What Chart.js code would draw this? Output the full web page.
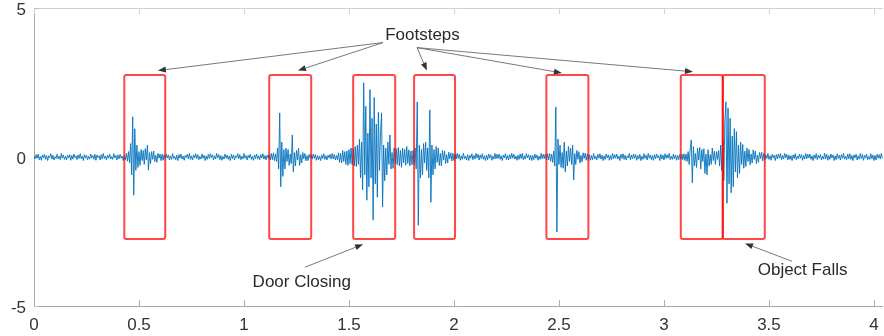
<!DOCTYPE html>
<html>
<head>
<meta charset="utf-8">
<script src="https://cdn.jsdelivr.net/npm/chart.js@4"></script>
<style>
html,body{margin:0;padding:0;background:#fff;}
#wrap{width:884px;height:336px;position:relative;}
</style>
</head>
<body>
<div id="wrap"><canvas id="c"></canvas></div>
<script>
// ---- DATA ----
const dt = 0.005;                 // sample spacing (s)
const valueScale = 0.01;          // values below are in hundredths
const segStarts = [0, 0.43, 0.625, 1.12, 1.325, 1.52, 1.725, 1.81, 2.005, 2.44, 2.645, 3.08, 3.28, 3.48];

const baseA = [3,-6,8,-4,10,-9,2,-11,7,-3,9,-8,5,-12,4,-2,11,-7,6,-10,
1,-5,9,-6,3,-9,12,-4,7,-8,2,-10,6,-3,8,-11,5,-7,10,-2,
4,-9,7,-5,11,-6,3,-12,8,-4,6,-9,2,-7,10,-3,5,-8,9,-11,
7,-2,4,-10,8,-6,12,-5,3,-9,6,-4,10,-7,2,-8,11,-3,5,-10,
7,-6,9,-4,3,-12];
const step1 = [5,-9,12,-14,18,-20,45,-60,135,-128,95,-45,40,-35,18,-28,25,-12,22,-25,
28,-10,40,-44,15,-22,18,-8,20,-15,6,-18,12,-4,10,-12,9,-11,8];
const baseB = [-6,9,-3,7,-10,4,-8,11,-5,2,
-9,6,-12,8,-4,10,-7,3,-11,5,
-2,9,-6,12,-8,4,-10,7,-3,11,
-5,8,-9,2,-7,10,-4,6,-12,3,
-8,9,-5,11,-2,7,-10,4,-6,12,
-3,8,-9,5,-11,2,-7,10,-4,6,
-8,3,-12,9,-5,7,-10,4,-2,11,
-6,8,-9,3,-7,12,-4,5,-10,6,
-3,9,-8,2,-11,7,-5,10,-6,4,
-9,8,-3,11,-7,5,-10,6,-4];
const step2 = [8,-10,12,-9,14,-12,10,-15,30,-40,148,-100,50,-65,25,-40,30,-15,25,-28,
10,-22,74,-50,15,-30,22,-10,30,-28,8,-20,15,-6,12,-13,5,-12,9,-4,8];
const baseC = [-7,10,-4,8,-11,5,-9,3,-12,7,
-5,11,-8,4,-10,6,-3,9,-7,12,
-6,8,-10,5,-9,
14,-18,12,-20,22,-15,18,-25,20,-28,25,-22,30,-26];
const door = [28,-30,35,-32,40,-25,60,-70,50,-110,249,-60,170,-145,80,-100,226,-70,130,-212,
200,-90,110,-135,150,-45,80,148,-168,40,-80,30,-60,50,-25,74,-40,15,-38,30,-22];
const baseD = [28,-25,32,-30,22,-35,30,-20,26,-28,35,-22,24,-30,20,-26,22];
const step3 = [-25,30,-40,185,-229,40,-70,25,-60,45,-20,50,-45,30,-70,158,-152,40,-60,25,
-40,35,-18,30,-28,12,-30,22,-10,20,-22,8,-20,16,-6,14,-13,12,-12];
const baseE = [10,-7,12,-5,9,-11,4,-8,13,-6,
3,-10,8,-12,6,-4,11,-9,5,-7,
12,-3,9,-10,7,-5,11,-8,4,-12,
6,-9,10,-4,8,-11,3,-7,12,-6,
9,-5,10,-8,4,-12,7,-3,11,-9,
5,-10,8,-6,12,-4,9,-7,3,-11,
6,-8,10,-5,12,-9,4,-7,11,-3,
8,-10,6,-12,5,-9,10,-4,7,-11,
3,-8,12,-6,9,-5,10];
const step4 = [-9,11,-10,12,-14,10,-18,20,-30,168,-252,60,-25,40,-35,15,-38,50,-50,20,
-30,35,-15,30,-25,40,-77,12,-25,22,-8,18,-20,6,-16,14,-5,13,-11,10,-12];
const baseF = [8,-11,5,-9,12,-6,3,-10,9,-4,
11,-7,6,-12,4,-8,10,-3,7,-11,
5,-9,12,-6,8,-4,10,-7,3,-12,
9,-5,11,-8,6,-10,4,-3,12,-9,
7,-6,10,-4,8,-11,5,-7,9,-12,
3,-8,11,-5,6,-10,12,-4,7,-9,
5,-11,8,-6,10,-3,4,-12,9,-7,
6,-10,11,-5,8,-4,12,-9,3,-8,
10,-6,7,-11,5,-9,8];
const step5 = [-8,10,-9,11,-12,10,-15,18,-25,30,57,-87,35,-30,12,-35,30,-10,32,-40,
25,-15,28,-55,10,-60,25,-30,8,-25,30,-12,20,-25,18,-8,22,-30,40,-45];
const fall = [60,-80,120,185,-155,165,-90,130,-120,70,-100,95,-50,85,-70,40,-55,50,-25,42,
-38,20,-32,30,-15,25,-26,10,-20,24,-8,20,-22,6,-18,15,-5,16,-13,12];
const baseG = [-10,7,-5,12,-8,4,-11,9,-3,6,
-12,8,-6,10,-4,11,-9,5,-7,12,
-3,9,-10,6,-8,4,-12,7,-5,11,
-9,3,-6,10,-4,8,-11,5,-7,12,
-6,9,-3,10,-8,4,-12,7,-5,11,
-9,6,-4,8,-10,3,-7,12,-6,9,
-11,5,-8,10,-3,7,-12,4,-9,11,
-5,6,-10,8,-4,12,-7,3,-9,10,
-6,11,-8,5,-12,7,-3,9,-10,4,
-7,12,-5,8,-11,6,-4,10,-9,3,
-8,11,-6,7,-12,5,-10,9,-4,8,
-7,12,-5];
const segments = [baseA, step1, baseB, step2, baseC, door, baseD, step3, baseE, step4, baseF, step5, fall, baseG];

const xTickLabels = ['0','0.5','1','1.5','2','2.5','3','3.5','4'];
const yTickLabels = ['-5','0','5'];

// event boxes (time ranges) and their vertical extent
const boxStart = [0.43, 1.12, 1.52, 1.81, 2.44, 3.08, 3.28];
const boxEnd   = [0.625, 1.32, 1.72, 2.005, 2.64, 3.28, 3.48];
const boxLow = -2.75, boxHigh = 2.75;

// annotations (data coordinates)
const labelText = ['Footsteps', 'Door Closing', 'Object Falls'];
const labelX = [1.85, 1.275, 3.66];
const labelY = [4.07, -4.21, -3.8];
// arrows: from (ax0,ay0) to head at (ax1,ay1)
const arrowX0 = [1.662, 1.662, 1.824, 1.824, 1.824, 1.29, 3.61];
const arrowY0 = [3.84, 3.84, 3.67, 3.67, 3.67, -3.70, -3.50];
const arrowX1 = [0.590, 1.257, 1.871, 2.514, 3.138, 1.567, 3.386];
const arrowY1 = [2.90, 2.90, 2.90, 2.82, 2.86, -2.93, -2.90];

// ---- BUILD POINTS ----
const points = [];
segments.forEach((seg, k) => {
  const t0 = segStarts[k];
  const tNext = k < segStarts.length - 1 ? segStarts[k + 1] : Infinity;
  seg.forEach((v, j) => {
    const t = t0 + j * dt;
    if (t < tNext - 1e-9) points.push({x: t, y: v * valueScale});
  });
});

const FONT = '"Liberation Sans", Arial, Helvetica, sans-serif';

const framePlugin = {
  id: 'frame',
  beforeDatasetsDraw(chart) {
    const {ctx, chartArea: a, scales: {x, y}} = chart;
    ctx.save();
    ctx.lineWidth = 1;
    ctx.strokeStyle = '#d2d2d2';
    ctx.beginPath(); ctx.moveTo(a.left, a.top + 0.5); ctx.lineTo(a.right, a.top + 0.5); ctx.stroke();
    ctx.strokeStyle = '#a8a8a8';
    ctx.beginPath();
    ctx.moveTo(a.left + 0.5, a.top); ctx.lineTo(a.left + 0.5, a.bottom + 0.5);
    ctx.lineTo(a.right, a.bottom + 0.5);
    ctx.stroke();
    x.ticks.forEach(t => {
      const px = Math.round(x.getPixelForValue(t.value)) + 0.5;
      ctx.strokeStyle = '#b0b0b0';
      ctx.beginPath(); ctx.moveTo(px, a.bottom); ctx.lineTo(px, a.bottom - 6); ctx.stroke();
      ctx.strokeStyle = '#d2d2d2';
      ctx.beginPath(); ctx.moveTo(px, a.top); ctx.lineTo(px, a.top + 6); ctx.stroke();
    });
    y.ticks.forEach(t => {
      const py = Math.round(y.getPixelForValue(t.value)) + 0.5;
      ctx.strokeStyle = '#c0c0c0';
      ctx.beginPath(); ctx.moveTo(a.left, py); ctx.lineTo(a.left + 5, py); ctx.stroke();
    });
    ctx.restore();
  }
};

const annoPlugin = {
  id: 'anno',
  afterDatasetsDraw(chart) {
    const {ctx, scales: {x, y}} = chart;
    ctx.save();
    ctx.strokeStyle = 'rgba(255,0,0,0.72)';
    ctx.lineWidth = 2;
    boxStart.forEach((s, i) => {
      const x0 = x.getPixelForValue(s), x1 = x.getPixelForValue(boxEnd[i]);
      const yT = y.getPixelForValue(boxHigh), yB = y.getPixelForValue(boxLow);
      ctx.beginPath();
      if (ctx.roundRect) ctx.roundRect(x0, yT, x1 - x0, yB - yT, 2);
      else ctx.rect(x0, yT, x1 - x0, yB - yT);
      ctx.stroke();
    });
    arrowX0.forEach((ax, i) => {
      const px0 = x.getPixelForValue(ax), py0 = y.getPixelForValue(arrowY0[i]);
      const px1 = x.getPixelForValue(arrowX1[i]), py1 = y.getPixelForValue(arrowY1[i]);
      const ang = Math.atan2(py1 - py0, px1 - px0);
      const hl = 8, hw = 3;
      const bx = px1 - hl * Math.cos(ang), by = py1 - hl * Math.sin(ang);
      ctx.strokeStyle = '#6a6a6a';
      ctx.lineWidth = 0.9;
      ctx.beginPath(); ctx.moveTo(px0, py0); ctx.lineTo(bx, by); ctx.stroke();
      ctx.fillStyle = '#333';
      ctx.beginPath();
      ctx.moveTo(px1, py1);
      ctx.lineTo(bx + hw * Math.sin(ang), by - hw * Math.cos(ang));
      ctx.lineTo(bx - hw * Math.sin(ang), by + hw * Math.cos(ang));
      ctx.closePath(); ctx.fill();
    });
    ctx.fillStyle = '#2a2a2a';
    ctx.font = '17px ' + FONT;
    ctx.textAlign = 'center';
    ctx.textBaseline = 'middle';
    labelText.forEach((txt, i) => {
      ctx.fillText(txt, x.getPixelForValue(labelX[i]), y.getPixelForValue(labelY[i]));
    });
    ctx.restore();
  }
};

new Chart(document.getElementById('c'), {
  type: 'line',
  data: {
    datasets: [{
      data: points,
      borderColor: '#0072BD',
      borderWidth: 0.9,
      pointRadius: 0,
      tension: 0,
      fill: false
    }]
  },
  options: {
    responsive: true,
    maintainAspectRatio: false,
    animation: false,
    layout: {padding: {top: 8, right: 1, left: 0, bottom: 0}},
    plugins: {legend: {display: false}, tooltip: {enabled: false}},
    scales: {
      x: {
        type: 'linear',
        min: 0,
        max: 4.043,
        grid: {display: false, drawTicks: false},
        border: {display: false},
        afterBuildTicks(scale) {
          scale.ticks = xTickLabels.map(s => ({value: parseFloat(s)}));
        },
        afterFit(scale) {
          scale.height = 30;
          scale.paddingLeft = 0; scale.paddingRight = 0;
        },
        ticks: {
          autoSkip: false,
          maxRotation: 0,
          padding: 9,
          color: '#333',
          font: {family: FONT, size: 17},
          callback: (v) => {
            const i = xTickLabels.findIndex(s => Math.abs(parseFloat(s) - v) < 1e-6);
            return i >= 0 ? xTickLabels[i] : '';
          }
        }
      },
      y: {
        min: -5,
        max: 5,
        grid: {display: false, drawTicks: false},
        border: {display: false},
        afterBuildTicks(scale) {
          scale.ticks = yTickLabels.map(s => ({value: parseFloat(s)}));
        },
        afterFit(scale) {
          scale.width = 34;
          scale.paddingTop = 0; scale.paddingBottom = 0;
        },
        ticks: {
          padding: 8,
          labelOffset: 2,
          color: '#333',
          font: {family: FONT, size: 17},
          callback: (v) => {
            const i = yTickLabels.findIndex(s => Math.abs(parseFloat(s) - v) < 1e-6);
            return i >= 0 ? yTickLabels[i] : '';
          }
        }
      }
    }
  },
  plugins: [framePlugin, annoPlugin]
});
</script>
</body>
</html>
